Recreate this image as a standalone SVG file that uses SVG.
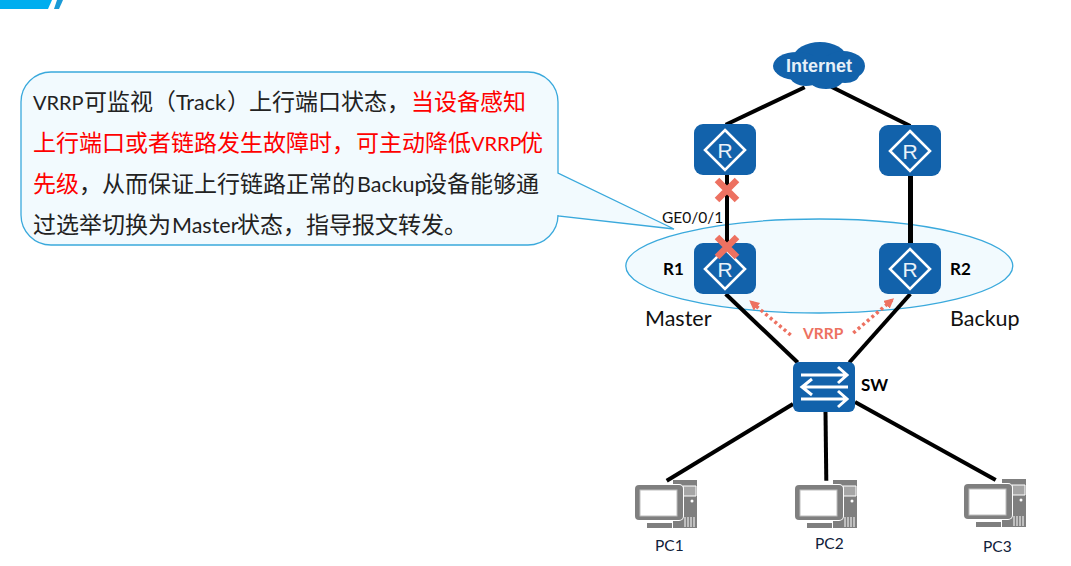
<svg xmlns="http://www.w3.org/2000/svg" width="1071" height="566" viewBox="0 0 1071 566">
<style>
text{font-family:Lato,"Noto Sans CJK SC",sans-serif;fill:#111}
.body{font-size:23px;fill:#222}
.lat{font-size:21.5px}
.vp{font-size:20px}
.red{fill:#ff0000}
.box{fill:#1262ab}
.ln{stroke:#000;stroke-width:4;fill:none}
.x{stroke:#ed7161;stroke-width:6.5;fill:none}
.vr{stroke:#ed7161;stroke-width:3.5;stroke-dasharray:3 3;fill:none;marker-end:url(#ah)}
.wl{stroke:#fff;fill:none}
.lbl{font-size:17px;font-weight:700;fill:#000}
.pc{font-size:15.5px;fill:#10203a}
.big{font-size:21.5px;fill:#111}
</style>
<defs>
<marker id="ah" markerUnits="userSpaceOnUse" markerWidth="12" markerHeight="12" refX="9" refY="5" orient="auto"><path d="M0 0L10 5L0 10Z" fill="#ed7161"/></marker>
<g id="router"><rect x="0" y="0" width="62" height="51" rx="9" class="box"/><path d="M31 6L51 26L31 46L11 26Z" class="wl" stroke-width="2.6"/><text x="31" y="33.5" text-anchor="middle" style="font-family:'Liberation Sans',sans-serif;font-size:21px;fill:#eaf2f9">R</text></g>
<g id="computer">
<path d="M38 0H62V48H38Z" fill="#7f7f7f"/>
<path d="M48 6H61V16H48Z" fill="#a5a5a5" stroke="#fff" stroke-width="1"/>
<circle cx="57" cy="21" r="1.5" fill="#fff"/>
<path d="M50 37v10M53 37v10M56 37v10M59 37v10" stroke="#fff" stroke-width="1"/>
<rect x="-1" y="4" width="50" height="37" rx="5" fill="#fff"/>
<rect x="0" y="5" width="48" height="35" rx="4" fill="#7f7f7f"/>
<rect x="5" y="10" width="37" height="26" fill="#fff" stroke="#bdbdbd" stroke-width="1"/>
<path d="M12 43H37V48H12Z" fill="#7f7f7f"/>
</g>
</defs>
<g id="banner"><path d="M0 0H52L48 9H0Z" fill="#00aeef"/><path d="M57 0H63L59 9H54Z" fill="#1a9ad6"/></g>
<g id="callout"><path d="M51 72H528A30 30 0 0 1 558 102V173L674 229L558 216V215A30 30 0 0 1 528 245H51A30 30 0 0 1 21 215V102A30 30 0 0 1 51 72Z" fill="#f2fafe" stroke="#3aa9dc" stroke-width="1.3"/>
<text class="body" y="110"><tspan class="vp" x="33">VRRP</tspan><tspan x="84">可监视（</tspan><tspan class="lat" x="176">Track</tspan><tspan x="227">）</tspan><tspan x="249">上行端口状态，</tspan><tspan class="red" x="411">当设备感知</tspan></text>
<text class="body red" y="151"><tspan x="33">上行端口或者链路发生故障时，</tspan><tspan x="356">可主动降低</tspan><tspan class="vp" x="471">VRRP</tspan><tspan x="520">优</tspan></text>
<text class="body" y="192"><tspan class="red" x="33">先级</tspan><tspan x="79">，从而保证上行链路正常的</tspan><tspan class="lat" x="357">Backup</tspan><tspan x="424">设备能够通</tspan></text>
<text class="body" y="233"><tspan x="33">过选举切换为</tspan><tspan class="lat" x="172">Master</tspan><tspan x="237">状态，指导报文转发。</tspan></text>
</g>
<g id="vrrp-group"><ellipse cx="819.3" cy="266" rx="193.5" ry="47" fill="#f2fafe" stroke="#3aa9dc" stroke-width="1.3"/></g>
<g id="connectors">
<path class="ln" d="M804.7 87.3L725.7 124.7"/>
<path class="ln" d="M831.3 86.7L910.3 126"/>
<path class="ln" d="M727 175V243"/>
<path class="ln" d="M910.5 176V243" style="stroke-width:5"/>
<path class="ln" d="M725.7 294L797.7 362.5"/>
<path class="ln" d="M910.3 294L849.3 362.5"/>
<path class="ln" d="M793 404L666.7 480.7"/>
<path class="ln" d="M825.5 412L826.3 480.7"/>
<path class="ln" d="M855 402L995.7 480"/>
<path class="vr" d="M790.7 335L750 301"/>
<path class="vr" d="M853.3 333L893.3 299"/>
</g>
<g id="internet" class="box"><ellipse cx="820" cy="57" rx="26" ry="15"/><ellipse cx="797" cy="66" rx="24" ry="14"/><ellipse cx="843" cy="66" rx="22" ry="15"/><ellipse cx="806" cy="76" rx="16" ry="10"/><ellipse cx="826" cy="78" rx="18" ry="11"/><ellipse cx="845" cy="75" rx="14" ry="8"/><text x="819" y="72" text-anchor="middle" style="font-family:'Liberation Sans',sans-serif;font-size:18px;font-weight:700;fill:#e6f0f8">Internet</text></g>
<g id="router-top-left"><use href="#router" x="694" y="124"/></g>
<g id="router-top-right"><use href="#router" x="879" y="125"/></g>
<g id="r1"><use href="#router" x="694" y="243"/><text class="lbl" x="663" y="275">R1</text></g>
<g id="r2"><use href="#router" x="879" y="243"/><text class="lbl" x="950" y="275">R2</text></g>
<g id="marks"><path class="x" d="M717 180L737 200M737 180L717 200"/><path class="x" d="M717 237L737 257M737 237L717 257"/></g>
<text id="ge" x="662" y="223" style="font-size:15.5px;fill:#111">GE0/0/1</text>
<text class="big" x="645" y="326">Master</text>
<text class="big" x="950" y="326">Backup</text>
<text x="803" y="339" style="font-size:15.5px;font-weight:700;fill:#ed7161">VRRP</text>
<g id="sw"><rect x="793" y="362" width="62" height="50" rx="6" class="box"/>
<path class="wl" stroke-width="3" d="M801 375H846M838 367L847 375L838 383M848 387H803M812 379L802 387L812 395M801 399H846M838 391L847 399L838 407"/>
<text class="lbl" x="861" y="391">SW</text></g>
<g id="pc1"><use href="#computer" x="635" y="480"/><text class="pc" x="655" y="551">PC1</text></g>
<g id="pc2"><use href="#computer" x="795" y="480"/><text class="pc" x="815" y="549">PC2</text></g>
<g id="pc3"><use href="#computer" x="964" y="479"/><text class="pc" x="983" y="552">PC3</text></g>
</svg>
